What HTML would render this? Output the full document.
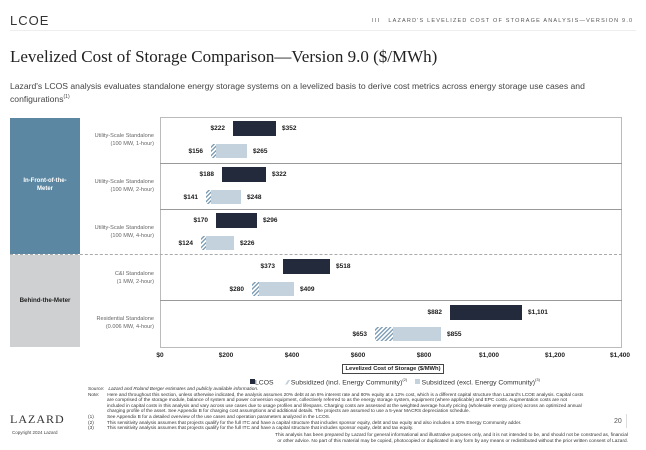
<!DOCTYPE html><html><head><meta charset="utf-8"><style>
*{margin:0;padding:0;box-sizing:border-box}
body{width:646px;height:450px;background:#fff;position:relative;overflow:hidden;font-family:"Liberation Sans",sans-serif;color:#222}
.a{position:absolute}
.l{position:absolute;font-size:6.5px;font-weight:bold;color:#1a1a1a;white-space:nowrap}
.r{text-align:right;width:40px}
.d{position:absolute;background:#222a3c;height:15px}
.s{position:absolute;background:#c3d2dc;height:14px}
.h{position:absolute;height:14px;background:repeating-linear-gradient(135deg,#fff 0 1.5px,#7fa0b8 1.5px 3px)}
.cat{position:absolute;left:84px;width:70px;text-align:right;font-size:5.6px;color:#666;line-height:8px}
.tk{position:absolute;top:352px;font-size:6.5px;font-weight:bold;width:40px;margin-left:-20px;text-align:center}
.fn{position:absolute;font-size:4.75px;color:#333;line-height:5.6px;white-space:nowrap}
</style></head><body>
<div class="a" style="left:10px;top:13px;font-size:13px;letter-spacing:1px;color:#333">LCOE</div>
<div class="a" style="left:372px;top:18px;font-size:5.5px;letter-spacing:1.2px;color:#555">III &nbsp; LAZARD'S LEVELIZED COST OF STORAGE ANALYSIS—VERSION 9.0</div>
<div class="a" style="left:10px;top:30px;width:626px;height:1px;background:#eee"></div>
<div class="a" style="left:10px;top:47px;font-family:'Liberation Serif',serif;font-size:17px;color:#222">Levelized Cost of Storage Comparison—Version 9.0 ($/MWh)</div>
<div class="a" style="left:10px;top:81px;font-size:8.6px;color:#444;width:630px;line-height:11px">Lazard's LCOS analysis evaluates standalone energy storage systems on a levelized basis to derive cost metrics across energy storage use cases and configurations<sup style="font-size:5px">(1)</sup></div>

<div class="a" style="left:10px;top:118px;width:70px;height:136px;background:#5b87a2"></div>
<div class="a" style="left:10px;top:177px;width:70px;text-align:center;font-size:6px;color:#fff;font-weight:bold;line-height:8px">In-Front-of-the-<br>Meter</div>
<div class="a" style="left:10px;top:255px;width:70px;height:92px;background:#cfd0d2"></div>
<div class="a" style="left:10px;top:297px;width:70px;text-align:center;font-size:6.2px;font-weight:bold;color:#222">Behind-the-Meter</div>

<div class="cat" style="top:132px">Utility-Scale Standalone<br>(100 MW, 1-hour)</div>
<div class="cat" style="top:178px">Utility-Scale Standalone<br>(100 MW, 2-hour)</div>
<div class="cat" style="top:224px">Utility-Scale Standalone<br>(100 MW, 4-hour)</div>
<div class="cat" style="top:270px">C&amp;I Standalone<br>(1 MW, 2-hour)</div>
<div class="cat" style="top:315px">Residential Standalone<br>(0.006 MW, 4-hour)</div>

<div class="a" style="left:160px;top:117px;width:462px;height:231px;border:1px solid #bbb"></div>
<div class="a" style="left:160px;top:163px;width:462px;height:1px;background:#999"></div>
<div class="a" style="left:160px;top:209px;width:462px;height:1px;background:#999"></div>
<div class="a" style="left:10px;top:254px;width:612px;height:0;border-top:1px dashed #aaa"></div>
<div class="a" style="left:160px;top:300px;width:462px;height:1px;background:#999"></div>

<div class="d" style="left:233px;top:121px;width:43px"></div>
<div class="l r" style="left:185px;top:125px">$222</div><div class="l" style="left:282px;top:125px">$352</div>
<div class="h" style="left:211px;top:144px;width:5px"></div><div class="s" style="left:216px;top:144px;width:31px"></div>
<div class="l r" style="left:163px;top:148px">$156</div><div class="l" style="left:253px;top:148px">$265</div>
<div class="d" style="left:222px;top:167px;width:44px"></div>
<div class="l r" style="left:174px;top:171px">$188</div><div class="l" style="left:272px;top:171px">$322</div>
<div class="h" style="left:206px;top:190px;width:5px"></div><div class="s" style="left:211px;top:190px;width:30px"></div>
<div class="l r" style="left:158px;top:194px">$141</div><div class="l" style="left:247px;top:194px">$248</div>
<div class="d" style="left:216px;top:213px;width:41px"></div>
<div class="l r" style="left:168px;top:217px">$170</div><div class="l" style="left:263px;top:217px">$296</div>
<div class="h" style="left:201px;top:236px;width:5px"></div><div class="s" style="left:206px;top:236px;width:28px"></div>
<div class="l r" style="left:153px;top:240px">$124</div><div class="l" style="left:240px;top:240px">$226</div>
<div class="d" style="left:283px;top:259px;width:47px"></div>
<div class="l r" style="left:235px;top:263px">$373</div><div class="l" style="left:336px;top:263px">$518</div>
<div class="h" style="left:252px;top:282px;width:7px"></div><div class="s" style="left:259px;top:282px;width:35px"></div>
<div class="l r" style="left:204px;top:286px">$280</div><div class="l" style="left:300px;top:286px">$409</div>
<div class="d" style="left:450px;top:305px;width:72px"></div>
<div class="l r" style="left:402px;top:309px">$882</div><div class="l" style="left:528px;top:309px">$1,101</div>
<div class="h" style="left:375px;top:327px;width:18px"></div><div class="s" style="left:393px;top:327px;width:48px"></div>
<div class="l r" style="left:327px;top:331px">$653</div><div class="l" style="left:447px;top:331px">$855</div>

<div class="tk" style="left:160px">$0</div><div class="tk" style="left:226px">$200</div><div class="tk" style="left:292px">$400</div><div class="tk" style="left:358px">$600</div><div class="tk" style="left:424px">$800</div><div class="tk" style="left:489px">$1,000</div><div class="tk" style="left:555px">$1,200</div><div class="tk" style="left:620px">$1,400</div>
<div class="a" style="left:342px;top:364px;width:102px;height:10px;border:1px solid #444;font-size:5.8px;font-weight:bold;text-align:center;line-height:8px">Levelized Cost of Storage ($/MWh)</div>

<div class="a" style="top:377px;left:250px;font-size:6.8px;color:#333;white-space:nowrap"><span style="display:inline-block;width:5px;height:5px;background:#222a3c"></span>LCOS &nbsp; &nbsp; &nbsp; <span style="color:#7fa0b8">⁄⁄</span> Subsidized (incl. Energy Community)<sup style="font-size:4px">(2)</sup> &nbsp; &nbsp;<span style="display:inline-block;width:5px;height:5px;background:#c3d2dc"></span> Subsidized (excl. Energy Community)<sup style="font-size:4px">(3)</sup></div>

<div class="a" style="left:10px;top:412px;font-family:'Liberation Serif',serif;font-size:12px;letter-spacing:1px;color:#333">LAZARD</div>
<div class="a" style="left:12px;top:430px;font-size:4.5px;color:#444">Copyright 2024 Lazard</div>
<div class="fn" style="left:88px;top:387px">Source:&nbsp;&nbsp; <i>Lazard and Roland Berger estimates and publicly available information.</i><br>Note:&nbsp;&nbsp;&nbsp;&nbsp;&nbsp; Here and throughout this section, unless otherwise indicated, the analysis assumes 20% debt at an 8% interest rate and 80% equity at a 12% cost, which is a different capital structure than Lazard's LCOE analysis. Capital costs<br><span style="margin-left:19px">are comprised of the storage module, balance of system and power conversion equipment, collectively referred to as the energy storage system, equipment (where applicable) and EPC costs. Augmentation costs are not</span><br><span style="margin-left:19px">included in capital costs in this analysis and vary across use cases due to usage profiles and lifespans. Charging costs are assessed at the weighted average hourly pricing (wholesale energy prices) across an optimized annual</span><br><span style="margin-left:19px">charging profile of the asset. See Appendix B for charging cost assumptions and additional details. The projects are assumed to use a 5-year MACRS depreciation schedule.</span><br>(1)&nbsp;&nbsp;&nbsp;&nbsp;&nbsp;&nbsp;&nbsp;&nbsp;&nbsp; See Appendix B for a detailed overview of the use cases and operation parameters analyzed in the LCOS.<br>(2)&nbsp;&nbsp;&nbsp;&nbsp;&nbsp;&nbsp;&nbsp;&nbsp;&nbsp; This sensitivity analysis assumes that projects qualify for the full ITC and have a capital structure that includes sponsor equity, debt and tax equity and also includes a 10% Energy Community adder.<br>(3)&nbsp;&nbsp;&nbsp;&nbsp;&nbsp;&nbsp;&nbsp;&nbsp;&nbsp; This sensitivity analysis assumes that projects qualify for the full ITC and have a capital structure that includes sponsor equity, debt and tax equity.</div>
<div class="fn" style="left:266px;top:433px;width:362px;text-align:right">This analysis has been prepared by Lazard for general informational and illustrative purposes only, and it is not intended to be, and should not be construed as, financial<br>or other advice. No part of this material may be copied, photocopied or duplicated in any form by any means or redistributed without the prior written consent of Lazard.</div>
<div class="a" style="left:614px;top:418px;font-size:7px;color:#555">20</div>
<div class="a" style="left:626px;top:414px;width:1px;height:14px;background:#ddd"></div>
</body></html>
